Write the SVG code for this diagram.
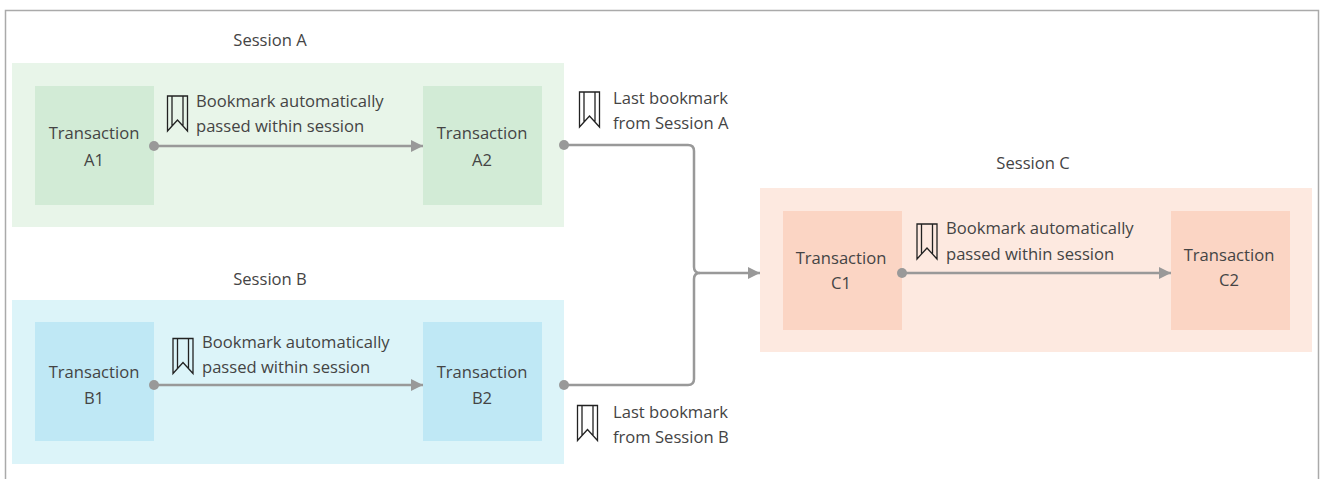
<svg xmlns="http://www.w3.org/2000/svg" width="1320" height="479" viewBox="0 0 1320 479">
<defs>
<style>
.t{font-family:"Open Sans","Liberation Sans",sans-serif;font-size:16.6px;fill:#444}
.c{text-anchor:middle}
.ln{fill:none;stroke:#999;stroke-width:2.5}
.dot{fill:#999}
.bm{fill:none;stroke:#222;stroke-width:1.3;stroke-linejoin:miter}
</style>
<marker id="ah" viewBox="0 0 12 12" refX="12" refY="6" markerWidth="12" markerHeight="12" markerUnits="userSpaceOnUse" orient="auto">
<path d="M0,0 L12,6 L0,12 Z" fill="#999"/>
</marker>
<g id="bookmark">
<path class="bm" d="M0,0 H20 V35 L10,24 L0,35 Z M4.5,0 V30 M15.5,0 V30"/>
</g>
</defs>
<rect x="0" y="0" width="1320" height="479" fill="#fff"/>
<rect x="5.5" y="10.5" width="1313" height="520" fill="none" stroke="#aaa" stroke-width="1.5"/>

<g id="sessionA">
<rect x="12" y="63" width="552" height="164" fill="#e8f5e9"/>
<text class="t c" x="270" y="46">Session A</text>
</g>
<g id="sessionB">
<rect x="12" y="300" width="552" height="164" fill="#dcf4f9"/>
<text class="t c" x="270" y="285">Session B</text>
</g>
<g id="sessionC">
<rect x="760" y="188" width="552" height="164" fill="#fde9e0"/>
<text class="t c" x="1033" y="169">Session C</text>
</g>

<g id="txA1">
<rect x="35" y="86" width="119" height="119" fill="#d2ebd6"/>
<text class="t c" x="94" y="139">Transaction</text>
<text class="t c" x="94" y="166">A1</text>
</g>
<g id="txA2">
<rect x="423" y="86" width="119" height="119" fill="#d2ebd6"/>
<text class="t c" x="482" y="139">Transaction</text>
<text class="t c" x="482" y="166">A2</text>
</g>
<g id="txB1">
<rect x="35" y="322" width="119" height="119" fill="#bfe8f5"/>
<text class="t c" x="94" y="378">Transaction</text>
<text class="t c" x="94" y="404">B1</text>
</g>
<g id="txB2">
<rect x="423" y="322" width="119" height="119" fill="#bfe8f5"/>
<text class="t c" x="482" y="378">Transaction</text>
<text class="t c" x="482" y="404">B2</text>
</g>
<g id="txC1">
<rect x="783" y="211" width="119" height="119" fill="#fbd5c4"/>
<text class="t c" x="841" y="264">Transaction</text>
<text class="t c" x="841" y="289">C1</text>
</g>
<g id="txC2">
<rect x="1171" y="211" width="119" height="119" fill="#fbd5c4"/>
<text class="t c" x="1229" y="261">Transaction</text>
<text class="t c" x="1229" y="286">C2</text>
</g>

<g id="connectors">
<path class="ln" d="M154,146 H423" marker-end="url(#ah)"/>
<circle class="dot" cx="154" cy="146" r="5"/>
<path class="ln" d="M154,385 H423" marker-end="url(#ah)"/>
<circle class="dot" cx="154" cy="385" r="5"/>
<path class="ln" d="M902,273 H1171" marker-end="url(#ah)"/>
<circle class="dot" cx="902" cy="273" r="5"/>
<path class="ln" d="M564,145 H688 Q694,145 694,151 V267 Q694,273 700,273"/>
<path class="ln" d="M564,385 H688 Q694,385 694,379 V279 Q694,273 700,273 H760" marker-end="url(#ah)"/>
<circle class="dot" cx="564" cy="145" r="5"/>
<circle class="dot" cx="564" cy="385" r="5"/>
</g>

<g id="labelA">
<use href="#bookmark" x="167.5" y="96"/>
<text class="t" x="196" y="107">Bookmark automatically</text>
<text class="t" x="196" y="132">passed within session</text>
</g>
<g id="labelB">
<use href="#bookmark" x="173" y="338.5"/>
<text class="t" x="202" y="348">Bookmark automatically</text>
<text class="t" x="202" y="373">passed within session</text>
</g>
<g id="labelC">
<use href="#bookmark" x="917" y="224"/>
<text class="t" x="946" y="234">Bookmark automatically</text>
<text class="t" x="946" y="260">passed within session</text>
</g>
<g id="labelLastA">
<use href="#bookmark" x="579.5" y="92"/>
<text class="t" x="613" y="104">Last bookmark</text>
<text class="t" x="613" y="129">from Session A</text>
</g>
<g id="labelLastB">
<use href="#bookmark" x="577.5" y="405.5"/>
<text class="t" x="613" y="418">Last bookmark</text>
<text class="t" x="613" y="443">from Session B</text>
</g>
</svg>
